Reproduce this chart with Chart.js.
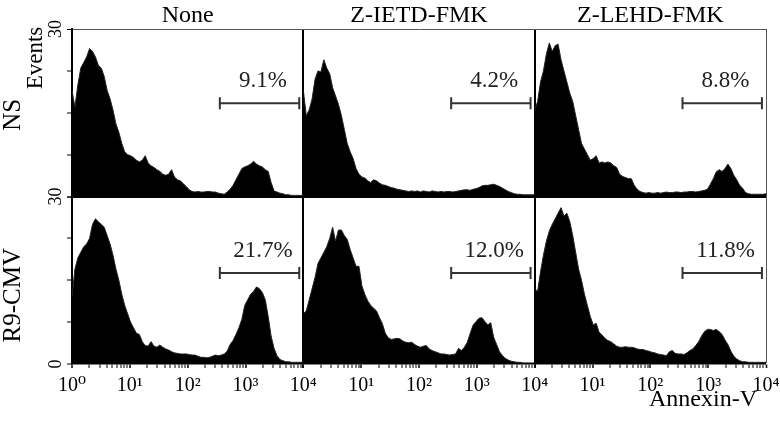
<!DOCTYPE html>
<html>
<head>
<meta charset="utf-8">
<script src="https://cdn.jsdelivr.net/npm/chart.js@4.4.0/dist/chart.umd.min.js"></script>
<style>
  body { margin: 0; background: #fff; }
  canvas { display: block; }
</style>
</head>
<body>
<canvas id="myChart" width="780" height="422"></canvas>
<script>
// ---------- data ----------
const columns = ['None', 'Z-IETD-FMK', 'Z-LEHD-FMK'];
const rows = ['NS', 'R9-CMV'];
const nsPercent = ['9.1%', '4.2%', '8.8%'];
const cmvPercent = ['21.7%', '12.0%', '11.8%'];

// gate on Annexin-V (from / to) and its height (events) for each row
const gateFrom = 360;
const gateTo = 8500;
const gateEvents = [16.7, 16.3];
const percentAt = 2000;

const yTicks = [0, 7.5, 15, 22.5, 30];
const decades = [1, 10, 100, 1000];
const mantissas = [1, 2, 3, 4, 5, 6, 7, 8, 9];
const superscripts = ['\u2070', '\u00b9', '\u00b2', '\u00b3', '\u2074'];

// events per channel (80 channels over 4 log decades)
const nsNone = [19, 16, 20, 23, 24, 25, 26.5, 26, 25, 23.5,
  23, 21.5, 19, 17.5, 15.5, 13, 11.5, 9.5, 8, 7.5,
  7.3, 7, 6.5, 6.2, 6.5, 7.3, 6, 5.5, 5.2, 4.8,
  4.5, 4, 3.8, 4, 4.8, 3.5, 3, 2.8, 2.3, 1.8,
  1.2, 0.9, 0.8, 0.9, 0.8, 0.8, 0.9, 0.9, 0.8, 0.8,
  0.6, 0.5, 0.4, 0.8, 1.3, 2, 3, 4, 5, 5.3,
  5.5, 5.8, 6.3, 5.8, 5.5, 5.3, 4.8, 4.5, 2.5, 1,
  0.8, 0.6, 0.5, 0.3, 0.3, 0.2, 0.2, 0.2, 0.2, 0.2];
const nsIetd = [19, 14.5, 15.5, 17.5, 21, 22.5, 22.3, 24.5, 23, 22,
  19.5, 18, 16.5, 14.5, 12, 9.5, 8, 6.8, 5, 4,
  3.5, 3.3, 2.8, 2.5, 3, 2.8, 2.4, 2.1, 2, 1.8,
  1.6, 1.5, 1.3, 1.2, 1.1, 1.0, 0.9, 1.0, 0.9, 1.0,
  0.8, 1.0, 0.9, 0.8, 1.0, 0.9, 0.8, 0.9, 0.8, 0.9,
  0.9, 0.8, 0.9, 1.0, 1.1, 1.2, 1.2, 1.1, 1.3, 1.4,
  1.6, 1.9, 2.0, 2.0, 2.1, 2.2, 2.0, 1.8, 1.5, 1.2,
  0.9, 0.7, 0.5, 0.4, 0.4, 0.3, 0.3, 0.3, 0.3, 0.3];
const nsLehd = [15.5, 17, 20.5, 22.5, 25.5, 27.5, 26, 27, 27.3, 24.5,
  22.5, 20.5, 18.5, 17, 14.5, 12, 9.5, 8.5, 7.5, 6.5,
  6.8, 7.3, 6, 6.2, 6, 6.2, 6, 5.5, 5.2, 4,
  3.6, 3.4, 3.2, 3.2, 2, 1.3, 0.9, 0.7, 0.6, 0.7,
  0.6, 0.6, 0.7, 0.6, 0.7, 0.8, 0.7, 0.7, 0.8, 0.8,
  0.7, 0.8, 0.8, 0.9, 0.9, 0.8, 0.9, 1.0, 1.1, 1.3,
  2.2, 3.2, 4.4, 4.8, 4.5, 5, 5.8, 5, 3.8, 3,
  2, 1.5, 0.7, 0.5, 0.4, 0.4, 0.4, 0.4, 0.4, 0.5];
const cmvNone = [12, 17, 19, 20, 21, 21.5, 22.5, 25, 26, 25.5,
  25, 24.5, 23, 21.5, 19.5, 17, 15, 12.5, 10.5, 9,
  7.5, 6.5, 5.5, 5.3, 4, 3.3, 3.2, 4, 3.2, 3,
  3.4, 3, 2.7, 2.5, 2.2, 2, 1.9, 1.8, 1.8, 1.8,
  1.7, 1.6, 1.6, 1.4, 1.2, 1.2, 1.1, 1.2, 1.4, 1.6,
  1.5, 1.6, 1.8, 2.3, 3.5, 4.2, 5.3, 6.5, 8, 10.5,
  11.5, 12.5, 13, 13.8, 13.5, 12.8, 11.5, 8.5, 5, 2.8,
  1.5, 0.8, 0.6, 0.4, 0.4, 0.3, 0.3, 0.3, 0.3, 0.3];
const cmvIetd = [9, 9.5, 11.5, 13.5, 15.5, 18, 19, 20, 21, 22.5,
  24.5, 22, 24, 24, 23, 22.3, 20.5, 19, 17.5, 17.5,
  14, 12.5, 11.3, 10.5, 10, 9.5, 8.3, 7.2, 5.5, 4.7,
  4.4, 4.5, 4.6, 4.5, 4.1, 3.9, 3.8, 3.9, 3.5, 3.2,
  3, 3.2, 3.3, 2.7, 2.4, 2.2, 2, 1.8, 1.8, 1.7,
  1.6, 1.7, 1.8, 2.8, 2.4, 3, 3.9, 5.5, 7, 7.6,
  8.2, 8.3, 7.6, 7, 7.4, 4.8, 3.5, 2.2, 1.5, 1,
  0.7, 0.5, 0.4, 0.3, 0.3, 0.2, 0.2, 0.2, 0.2, 0.2];
const cmvLehd = [13.5, 13, 16.5, 19.5, 22, 23.8, 25, 26, 27, 28,
  26.5, 27, 25.5, 23, 20, 17, 15, 12.5, 10.5, 8.5,
  7, 7.3, 5.7, 5.2, 4.6, 4.2, 4, 3.6, 3.2, 3,
  3, 3.1, 3, 3, 2.9, 2.7, 2.6, 2.6, 2.4, 2.3,
  2.1, 2, 1.8, 1.7, 1.6, 1.5, 2.2, 2.4, 1.9, 1.8,
  1.8, 1.7, 2, 2.4, 2.7, 3.3, 4, 5, 5.8, 6.2,
  6.2, 6.0, 6.2, 5.8, 5.3, 4.3, 3.5, 2.3, 1.4, 0.9,
  0.6, 0.4, 0.4, 0.3, 0.3, 0.3, 0.3, 0.3, 0.3, 0.3];

const histograms = [[nsNone, nsIetd, nsLehd], [cmvNone, cmvIetd, cmvLehd]];

// ---------- setup ----------
const serif = '"Liberation Serif", "DejaVu Serif", serif';
Chart.defaults.font.family = serif;
Chart.defaults.color = '#000';

// channel i -> Annexin-V value on 4 decades
const channelX = nsNone.map((_, i) => Math.pow(10, 4 * i / (nsNone.length - 1)));

const xTickValues = [];
decades.forEach(d => mantissas.forEach(m => xTickValues.push(m * d)));
xTickValues.push(10000);

function isDecade(v) {
  return Math.abs(Math.log10(v) - Math.round(Math.log10(v))) < 1e-9;
}

function xScale(col) {
  return {
    type: 'logarithmic',
    position: 'bottom',
    stack: 'columns',
    stackWeight: 1,
    weight: col,
    min: 1,
    max: 10000,
    afterBuildTicks: s => { s.ticks = xTickValues.map(v => ({ value: v })); },
    // fixed height, no extra room for the edge labels
    afterFit: s => { s.height = 58; s.paddingLeft = 0; s.paddingRight = 0; },
    border: { display: true, color: '#000', width: 1.5 },
    grid: {
      drawOnChartArea: true,
      color: c => (c.tick && c.tick.value === 10000) ? (col === 2 ? '#555' : '#000') : 'rgba(0,0,0,0)',
      lineWidth: c => (c.tick && c.tick.value === 10000) ? (col === 2 ? 1 : 2) : 0,
      tickColor: '#000',
      tickLength: 4,
      tickWidth: c => (c.tick && isDecade(c.tick.value)) ? 1.5 : 1
    },
    ticks: {
      autoSkip: false,
      minRotation: 0,
      maxRotation: 0,
      padding: 6,
      font: { size: 20 },
      callback: v => {
        if (!isDecade(v)) return '';
        const e = Math.round(Math.log10(v));
        if (e === 0 && col > 0) return '';
        return '10' + superscripts[e];
      }
    }
  };
}

function yScale(row) {
  return {
    type: 'linear',
    position: 'left',
    stack: 'rows',
    stackWeight: 1,
    weight: row === 0 ? 2 : 1,
    min: 0,
    max: 30,
    afterBuildTicks: s => { s.ticks = yTicks.map(v => ({ value: v })); },
    afterFit: s => { s.width = 30; s.paddingTop = 0; s.paddingBottom = 0; },
    border: { display: true, color: '#000', width: 2 },
    grid: {
      drawOnChartArea: true,
      color: c => {
        if (!c.tick) return 'rgba(0,0,0,0)';
        if (row === 0 && c.tick.value === 30) return '#555';
        if ((row === 0 && c.tick.value === 0) || (row === 1 && c.tick.value === 30)) return '#000';
        return 'rgba(0,0,0,0)';
      },
      lineWidth: c => {
        if (!c.tick) return 0;
        if (row === 0 && c.tick.value === 30) return 1;
        if ((row === 0 && c.tick.value === 0) || (row === 1 && c.tick.value === 30)) return 2;
        return 0;
      },
      tickColor: '#000',
      tickLength: 5,
      tickWidth: 1
    },
    ticks: {
      minRotation: 90,
      maxRotation: 90,
      crossAlign: 'center',
      padding: 2,
      font: { size: 18 },
      callback: v => (v === 30 || (v === 0 && row === 1)) ? String(v) : ''
    }
  };
}

const datasets = [];
histograms.forEach((rowData, r) => rowData.forEach((counts, c) => {
  datasets.push({
    label: rows[r] + ' ' + columns[c],
    data: counts.map((v, i) => ({ x: channelX[i], y: v })),
    xAxisID: 'x' + c,
    yAxisID: 'y' + r,
    borderColor: '#222',
    backgroundColor: '#000',
    borderWidth: 1,
    fill: 'origin',
    pointRadius: 0,
    tension: 0
  });
}));

function vText(ctx, text, x, y) {
  ctx.save();
  ctx.translate(x, y);
  ctx.rotate(-Math.PI / 2);
  ctx.fillText(text, 0, 0);
  ctx.restore();
}

// titles, row labels, gates and percentages
const panelLabels = {
  id: 'panelLabels',
  afterDraw(chart) {
    const ctx = chart.ctx;
    const area = chart.chartArea;
    ctx.save();
    ctx.fillStyle = '#000';
    ctx.textAlign = 'center';
    ctx.textBaseline = 'alphabetic';
    ctx.font = '24px ' + serif;
    columns.forEach((t, c) => {
      const s = chart.scales['x' + c];
      ctx.fillText(t, (s.left + s.right) / 2, area.top - 7);
    });

    [nsPercent, cmvPercent].forEach((pcts, r) => {
      const gy = chart.scales['y' + r].getPixelForValue(gateEvents[r]);
      pcts.forEach((p, c) => {
        const xs = chart.scales['x' + c];
        const x1 = xs.getPixelForValue(gateFrom);
        const x2 = xs.getPixelForValue(gateTo);
        ctx.strokeStyle = '#333';
        ctx.lineWidth = 2;
        ctx.beginPath();
        ctx.moveTo(x1, gy); ctx.lineTo(x2, gy);
        ctx.moveTo(x1, gy - 6); ctx.lineTo(x1, gy + 6);
        ctx.moveTo(x2, gy - 6); ctx.lineTo(x2, gy + 6);
        ctx.stroke();
        ctx.font = '23px ' + serif;
        ctx.fillStyle = '#222';
        ctx.fillText(p, xs.getPixelForValue(percentAt), gy - 16);
      });
    });

    ctx.fillStyle = '#000';
    ctx.textBaseline = 'middle';
    const top = chart.scales.y0, bot = chart.scales.y1;
    ctx.font = '25px ' + serif;
    vText(ctx, rows[0], 13, (top.top + top.bottom) / 2 + 2);
    vText(ctx, rows[1], 13, (bot.top + bot.bottom) / 2 + 15);
    ctx.font = '23px ' + serif;
    vText(ctx, 'Events', 36, top.top + 29);

    ctx.textAlign = 'right';
    ctx.textBaseline = 'alphabetic';
    ctx.font = '24px ' + serif;
    ctx.fillText('Annexin-V', area.right - 9, 406);
    ctx.restore();
  }
};

new Chart(document.getElementById('myChart'), {
  type: 'line',
  data: { datasets: datasets },
  options: {
    responsive: false,
    animation: false,
    devicePixelRatio: 1,
    layout: { padding: { left: 42, top: 29, right: 14, bottom: 0 } },
    plugins: { legend: { display: false }, tooltip: { enabled: false } },
    scales: {
      x0: xScale(0), x1: xScale(1), x2: xScale(2),
      y0: yScale(0), y1: yScale(1)
    }
  },
  plugins: [panelLabels]
});
</script>
</body>
</html>
